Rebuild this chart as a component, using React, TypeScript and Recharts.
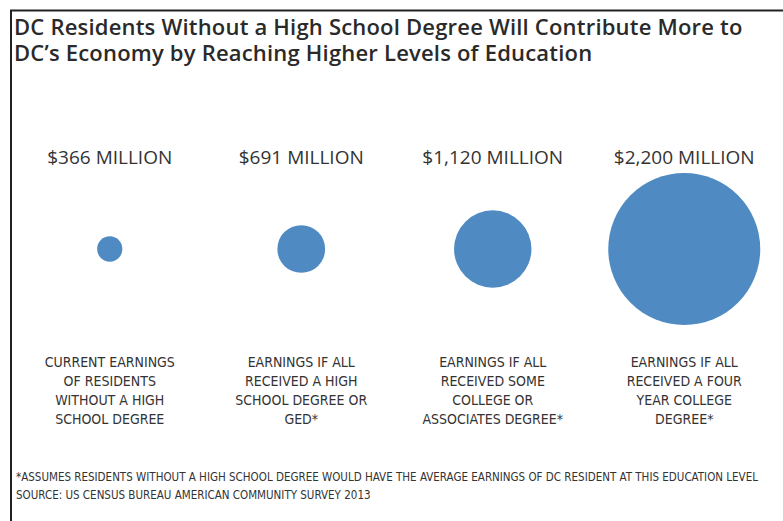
import React from 'react';
import { ScatterChart, Scatter, XAxis, YAxis, ZAxis, LabelList } from 'recharts';

const title = [
  'DC Residents Without a High School Degree Will Contribute More to',
  'DC\u2019s Economy by Reaching Higher Levels of Education',
];

const earnings = [366, 691, 1120, 2200]; // $ millions

const categoryLines = [
  ['CURRENT EARNINGS', 'OF RESIDENTS', 'WITHOUT A HIGH', 'SCHOOL DEGREE'],
  ['EARNINGS IF ALL', 'RECEIVED A HIGH', 'SCHOOL DEGREE OR', 'GED*'],
  ['EARNINGS IF ALL', 'RECEIVED SOME', 'COLLEGE OR', 'ASSOCIATES DEGREE*'],
  ['EARNINGS IF ALL', 'RECEIVED A FOUR', 'YEAR COLLEGE', 'DEGREE*'],
];

const footnotes = [
  '*ASSUMES RESIDENTS WITHOUT A HIGH SCHOOL DEGREE WOULD HAVE THE AVERAGE EARNINGS OF DC RESIDENT AT THIS EDUCATION LEVEL',
  'SOURCE: US CENSUS BUREAU AMERICAN COMMUNITY SURVEY 2013',
];

const BLUE = '#4f8bc2';
const TEXT = '#333333';
const MAX_R = 76;
const LABEL_Y = 164; // baseline of the value labels above the bubbles

const data = earnings.map((value, idx) => ({ idx, value, row: 1 }));

const fmtMillions = (v: number) => `$${v.toLocaleString('en-US')} MILLION`;

const ValueLabel = (props: any) => {
  const { x, width, value } = props;
  if (value == null) return null;
  const cx = Number(x) + Number(width || 0) / 2;
  return (
    <text x={cx} y={LABEL_Y} textAnchor="middle" fontSize={19} fill={TEXT} fontFamily="'Open Sans', sans-serif">
      {fmtMillions(value)}
    </text>
  );
};

const CategoryTick = (props: any) => {
  const { x, y, payload } = props;
  const lines = categoryLines[payload.value];
  if (!lines) return null;
  return (
    <text x={x} y={y} textAnchor="middle" fontSize={14} fill={TEXT} fontFamily="'Liberation Sans Narrow', 'DejaVu Sans Condensed', sans-serif">
      {lines.map((l, i) => (
        <tspan key={i} x={x} dy={i === 0 ? 33 : 19}>{l}</tspan>
      ))}
    </text>
  );
};

export default function App() {
  return (
    <div style={{ position: 'relative', width: 783, height: 521, background: '#fff' }}>
      <style>{'body{margin:0}'}</style>
      <ScatterChart width={783} height={521} margin={{ top: 172, right: 3, bottom: 95, left: 14 }}>
        <XAxis
          type="number"
          dataKey="idx"
          domain={[-0.5, 3.5]}
          ticks={[0, 1, 2, 3]}
          interval={0}
          height={100}
          axisLine={false}
          tickLine={false}
          tick={<CategoryTick />}
        />
        <YAxis type="number" dataKey="row" domain={[0, 2]} hide />
        <ZAxis
          type="number"
          dataKey={(d: any) => d.value * d.value}
          domain={[0, earnings[3] * earnings[3]]}
          range={[0, Math.PI * MAX_R * MAX_R]}
        />
        <Scatter data={data} fill={BLUE} isAnimationActive={false}>
          <LabelList dataKey="value" content={<ValueLabel />} />
        </Scatter>
      </ScatterChart>
      <svg width={783} height={521} style={{ position: 'absolute', left: 0, top: 0, pointerEvents: 'none' }}>
        <line x1={10} y1={10.5} x2={783} y2={10.5} stroke="#222" strokeWidth={2} />
        <line x1={11} y1={10} x2={11} y2={521} stroke="#222" strokeWidth={2} />
        <text x={14} y={35} fontSize={22} letterSpacing={0.2} fontWeight={600} fill="#2a2a2a" fontFamily="'Open Sans', sans-serif">
          {title.map((t, i) => (
            <tspan key={i} x={14} dy={i === 0 ? 0 : 26}>{t}</tspan>
          ))}
        </text>
        <text x={16} y={481} fontSize={11.5} fill={TEXT} fontFamily="'Liberation Sans Narrow', 'DejaVu Sans Condensed', sans-serif">
          {footnotes.map((t, i) => (
            <tspan key={i} x={16} dy={i === 0 ? 0 : 18}>{t}</tspan>
          ))}
        </text>
      </svg>
    </div>
  );
}
